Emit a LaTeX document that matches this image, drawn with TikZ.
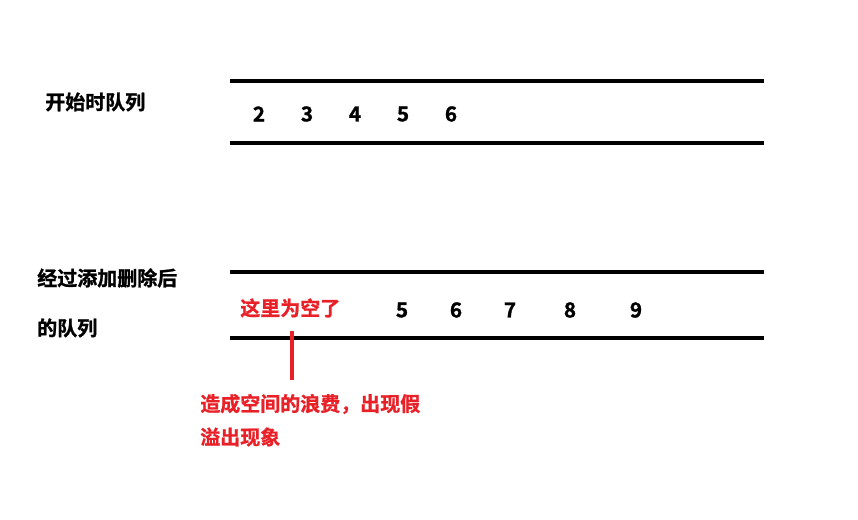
\documentclass[tikz,border=0pt]{standalone}
\usepackage{fontspec}
\newfontfamily\cjk{Noto Sans CJK SC}[BoldFont={Noto Sans CJK SC Bold},BoldFeatures={FakeBold=1.2}]
\definecolor{warnred}{RGB}{232,32,40}
\begin{document}
\begin{tikzpicture}[x=0.75pt,y=-0.75pt,
  lbl/.style={font=\cjk\bfseries\fontsize{15}{18}\selectfont, inner sep=0pt, anchor=west},
  num/.style={font=\cjk\bfseries\fontsize{15.5}{18}\selectfont, inner sep=0pt},
  redlbl/.style={lbl, text=warnred},
  bar/.style={line width=3pt, black},
  redbar/.style={line width=3pt, warnred}]
\useasboundingbox (0,0) rectangle (858,519);
% first queue
\coordinate (a1) at (230,81); \coordinate (a2) at (764,81);
\coordinate (b1) at (230,143); \coordinate (b2) at (764,143);
\draw[bar] (a1) -- (a2);
\draw[bar] (b1) -- (b2);
\node[lbl] (t1) at (45,102) {开始时队列};
\node[num] (n2) at (259,114) {2};
\node[num] (n3) at (307,114) {3};
\node[num] (n4) at (355,114) {4};
\node[num] (n5) at (403,114) {5};
\node[num] (n6) at (451,114) {6};
% second queue
\coordinate (c1) at (230,272); \coordinate (c2) at (764,272);
\coordinate (d1) at (230,338); \coordinate (d2) at (764,338);
\draw[bar] (c1) -- (c2);
\draw[bar] (d1) -- (d2);
\node[lbl] (t2) at (37,278) {经过添加删除后};
\node[lbl] (t3) at (37,328) {的队列};
\node[redlbl] (empty) at (240,308) {这里为空了};
\node[num] (m5) at (402,310) {5};
\node[num] (m6) at (456,310) {6};
\node[num] (m7) at (510,310) {7};
\node[num] (m8) at (570,310) {8};
\node[num] (m9) at (636,310) {9};
% annotation
\coordinate (r1) at (292,331); \coordinate (r2) at (292,380);
\draw[redbar] (r1) -- (r2);
\node[redlbl] (w1) at (200,404) {造成空间的浪费，出现假};
\node[redlbl] (w2) at (200,437) {溢出现象};
\end{tikzpicture}
\end{document}
